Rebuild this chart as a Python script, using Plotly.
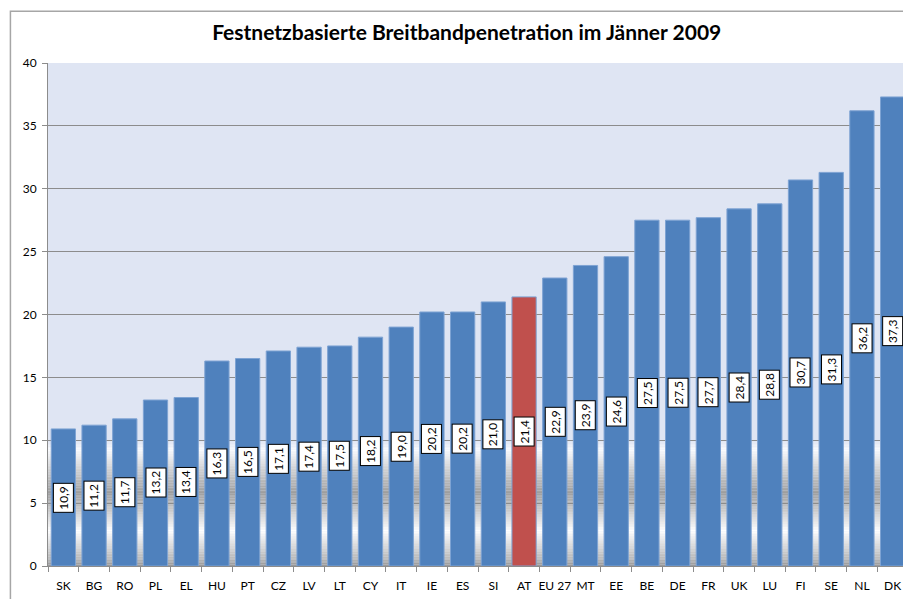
import plotly.graph_objects as go

# Festnetzbasierte Breitbandpenetration, Jänner 2009 (%)
countries = ["SK", "BG", "RO", "PL", "EL", "HU", "PT", "CZ", "LV", "LT", "CY", "IT",
             "IE", "ES", "SI", "AT", "EU 27", "MT", "EE", "BE", "DE", "FR", "UK",
             "LU", "FI", "SE", "NL", "DK"]
penetration = [10.9, 11.2, 11.7, 13.2, 13.4, 16.3, 16.5, 17.1, 17.4, 17.5, 18.2, 19.0,
               20.2, 20.2, 21.0, 21.4, 22.9, 23.9, 24.6, 27.5, 27.5, 27.7, 28.4,
               28.8, 30.7, 31.3, 36.2, 37.3]
highlight = "AT"

BLUE = "#4f81bd"
RED = "#c0504d"
FONT = "Lato"

colors = [RED if c == highlight else BLUE for c in countries]

fig = go.Figure(go.Bar(
    x=countries, y=penetration,
    marker=dict(color=colors, line=dict(color="#7ea3d3", width=1)),
    hoverinfo="x+y",
))

# value labels: white boxes, rotated, centred in the bar
for c, v in zip(countries, penetration):
    fig.add_annotation(
        x=c, y=v / 2, text=f"{v:.1f}".replace(".", ","),
        textangle=-90, showarrow=False,
        font=dict(family=FONT, size=12, color="black"),
        bgcolor="white", bordercolor="black", borderwidth=1, borderpad=2,
    )


# background "floor" shading between 0 and 10 (grey/white bands)
def mix(c1, c2, t):
    return "rgb(" + ",".join(str(round(a + (b - a) * t)) for a, b in zip(c1, c2)) + ")"


stops = [(0.0, (150, 150, 150)), (0.6, (185, 185, 185)), (2.8, (255, 255, 255)),
         (5.8, (158, 158, 158)), (9.2, (250, 251, 253)), (10.0, (223, 229, 243))]
n = 80
for i in range(n):
    y0 = 10.0 * i / n
    y1 = 10.0 * (i + 1) / n
    ym = (y0 + y1) / 2
    for (a, ca), (b, cb) in zip(stops[:-1], stops[1:]):
        if a <= ym <= b:
            col = mix(ca, cb, (ym - a) / (b - a))
            break
    fig.add_shape(type="rect", xref="paper", yref="y", x0=0, x1=1, y0=y0, y1=y1,
                  fillcolor=col, line=dict(width=0), layer="below")

# outer chart border (runs off the right and bottom edges)
fig.add_shape(type="rect", xref="paper", yref="paper", x0=-0.0437, x1=1.05, y0=-0.2, y1=1.103,
              line=dict(color="#a6a6a6", width=1.5), fillcolor="rgba(0,0,0,0)")

# the page body adds an 8px margin, so the figure is 8px smaller than the window
fig.update_layout(
    width=903, height=591,
    margin=dict(l=40, r=3, t=55, b=33),
    paper_bgcolor="white",
    plot_bgcolor="#dfe5f3",
    bargap=0.21,
    showlegend=False,
    title=dict(text="<b>Festnetzbasierte Breitbandpenetration im Jänner 2009</b>",
               x=0.508, xanchor="center", y=0.958, yanchor="middle",
               font=dict(family=FONT, size=21, color="black")),
    font=dict(family=FONT, size=12, color="black"),
)
fig.update_yaxes(range=[0, 40], dtick=5, showgrid=True, gridcolor="#8c8c8c", gridwidth=1,
                 showline=True, linecolor="#8c8c8c", ticks="outside", ticklen=5,
                 tickcolor="#8c8c8c", zeroline=False, tickfont=dict(size=12),
                 ticklabelstandoff=3, automargin=False)
fig.update_xaxes(showline=True, linecolor="#8c8c8c", ticks="outside", ticklen=5,
                 tickcolor="#8c8c8c", tickson="boundaries", showgrid=False,
                 tickangle=0, tickfont=dict(size=12), ticklabelstandoff=9,
                 automargin=False)

fig.write_html("out.html")
